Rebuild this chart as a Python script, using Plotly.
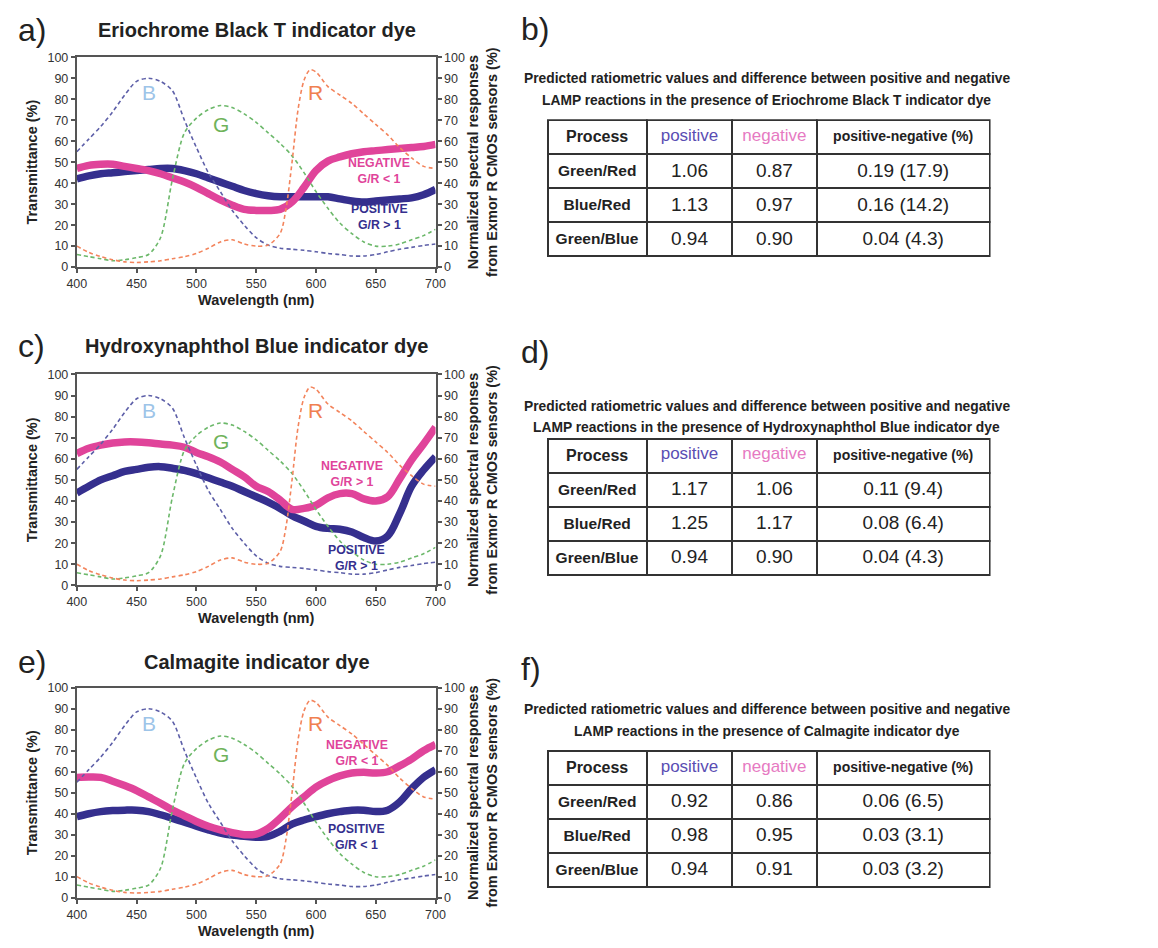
import plotly.graph_objects as go

# ---------------- data ----------------
WL = [400, 410, 420, 430, 440, 450, 460, 470, 480, 490, 500, 510, 520, 530, 540, 550,
      560, 570, 580, 590, 600, 610, 620, 630, 640, 650, 660, 670, 680, 690, 700]

SENS_B = [55, 61, 67, 74, 82, 88.5, 90, 88.5, 84, 70, 57, 45, 36, 27, 20, 14,
          10.5, 9, 8.5, 8, 7.3, 6.5, 6, 5.3, 5.3, 6, 7.3, 8.5, 9.4, 10.3, 11]
SENS_G = [6, 5, 4, 3, 3.5, 4.5, 6, 14, 42, 64, 71, 75, 77, 76, 73, 69,
          64, 59, 53, 45, 36, 28, 21, 16, 12, 10, 10, 11, 13, 15, 18]
WL_R = [400, 410, 420, 430, 440, 450, 460, 470, 480, 490, 500, 510, 520, 530, 540, 550,
        560, 570, 575, 580, 585, 590, 595, 600, 610, 620, 630, 640, 650, 660, 670, 680, 690, 700]
SENS_R = [10, 7, 5, 3.5, 2.5, 2.2, 2.5, 3, 4, 5, 6.5, 9, 12, 13, 11, 10,
          10.5, 16, 28, 50, 75, 89, 94, 93, 86, 82, 78, 73, 68, 63, 57, 52, 48, 47]

EBT_NEG = [47, 48.5, 49, 49, 48, 47, 46, 44.5, 42.5, 40.5, 38, 35, 32, 29.5, 27.5, 27,
           27, 27.5, 31, 38, 46, 50.5, 52.5, 54, 55, 55.5, 56, 56.5, 57, 57.5, 58.5]
EBT_POS = [42, 43.5, 44.5, 45, 45.5, 46, 46.5, 47, 47, 46, 44.5, 42.5, 40.5, 38.5, 36.5, 35,
           34, 33.5, 33.5, 33.5, 33.5, 33.5, 32.5, 31.5, 31, 31.5, 32, 32.5, 33, 34.5, 37]
HNB_NEG = [62.5, 65, 66.5, 67.5, 68, 68, 67.6, 67, 66.5, 65.5, 63, 61, 58.5, 55, 51.5, 47,
           44.5, 40.5, 36, 36.5, 38, 41.5, 43.5, 43.5, 41, 40, 42, 50.5, 59.5, 67, 75]
HNB_POS = [43.8, 47, 50, 52, 54, 55, 56, 56.3, 55.5, 54.5, 53, 51, 49, 47, 44.5, 42,
           39.5, 36.5, 33, 30.5, 28, 27, 26.6, 25.3, 22.7, 21, 23.4, 34, 47, 54.7, 61]
CAL_NEG = [57.3, 57.5, 57.3, 55.5, 53.4, 51, 48, 45, 41.7, 39, 36.3, 34, 32.3, 31, 30, 30.3,
           33, 37.8, 43.3, 48, 52.7, 55.8, 58, 59.4, 59.7, 59.4, 60, 62.8, 66, 70, 73]
CAL_POS = [38.6, 40, 41, 41.5, 41.7, 41.7, 41, 39.5, 37.8, 36, 34, 32.3, 30.8, 29.8, 29.2, 28.8,
           29.2, 31.6, 35, 37, 38.6, 40, 41, 41.7, 41.7, 41, 41.7, 45.6, 51.9, 57.3, 61]

DYES = ["Eriochrome Black T", "Hydroxynaphthol Blue", "Calmagite"]
PANEL_CHART = ["a)", "c)", "e)"]
PANEL_TABLE = ["b)", "d)", "f)"]
NEG_LABEL = ["NEGATIVE<br>G/R < 1", "NEGATIVE<br>G/R > 1", "NEGATIVE<br>G/R < 1"]
POS_LABEL = ["POSITIVE<br>G/R > 1", "POSITIVE<br>G/R > 1", "POSITIVE<br>G/R < 1"]
NEG_LABEL_XY = [(653, 46), (630, 53), (634, 69)]
POS_LABEL_XY = [(653, 24), (634, 13), (634, 29)]
NEG_SERIES = [EBT_NEG, HNB_NEG, CAL_NEG]
POS_SERIES = [EBT_POS, HNB_POS, CAL_POS]

PROCESS = ["Green/Red", "Blue/Red", "Green/Blue"]
TBL_POS = [[1.06, 1.13, 0.94], [1.17, 1.25, 0.94], [0.92, 0.98, 0.94]]
TBL_NEG = [[0.87, 0.97, 0.90], [1.06, 1.17, 0.90], [0.86, 0.95, 0.91]]
TBL_DIFF = [[0.19, 0.16, 0.04], [0.11, 0.08, 0.04], [0.06, 0.03, 0.03]]
TBL_PCT = [[17.9, 14.2, 4.3], [9.4, 6.4, 4.3], [6.5, 3.1, 3.2]]

# ---------------- style ----------------
W, H = 1158, 948
FONT = "Liberation Sans, Arial, sans-serif"
C_NEG = "#e0449a"
C_POS = "#352f8e"
C_B = "#5d5fa8"
C_G = "#6cb86a"
C_R = "#f3845c"
AXC = "#555555"


def px_x(p):
    return p / W


def px_y(p):
    return 1 - p / H


PLOT_Y = [(51, 264), (373, 587), (691, 904)]
PLOT_X = (68, 433)
TABLE_TOP = [115, 438, 755]
TABLE_X = (547, 997)
TITLE_Y = [23, 344, 665]
TBL_TITLE_Y = [(73, 95), (405, 427), (713, 735)]
TBL_LABEL_Y = [22, 350, 672]

fig = go.Figure()
annotations = []

for i in range(3):
    xa = "x" if i == 0 else f"x{i + 1}"
    yl = "y" if i == 0 else f"y{2 * i + 1}"
    yr = f"y{2 * i + 2}"
    for xs, ys, col in ((WL, SENS_B, C_B), (WL, SENS_G, C_G), (WL_R, SENS_R, C_R)):
        fig.add_trace(go.Scatter(x=xs, y=ys, xaxis=xa, yaxis=yr, mode="lines",
                                 line=dict(color=col, width=1.6, dash="4px,3px", shape="spline",
                                           smoothing=0.8),
                                 hoverinfo="skip", showlegend=False))
    fig.add_trace(go.Scatter(x=WL, y=POS_SERIES[i], xaxis=xa, yaxis=yl, mode="lines",
                             line=dict(color=C_POS, width=7.5, shape="spline", smoothing=1.0),
                             name="positive", showlegend=False))
    fig.add_trace(go.Scatter(x=WL, y=NEG_SERIES[i], xaxis=xa, yaxis=yl, mode="lines",
                             line=dict(color=C_NEG, width=7.5, shape="spline", smoothing=1.0),
                             name="negative", showlegend=False))

    top, bot = PLOT_Y[i]
    dom_y = [px_y(bot), px_y(top)]
    dom_x = [px_x(PLOT_X[0]), px_x(PLOT_X[1])]
    axis_common = dict(showline=True, linecolor=AXC, linewidth=2, ticks="outside", ticklen=4,
                       tickcolor=AXC, tickwidth=1.5, showgrid=False, zeroline=False,
                       tickfont=dict(family=FONT, size=12.5, color="#333333"))
    tfont = dict(family=FONT, size=14.5, color="#222")
    fig.update_layout(**{
        ("xaxis" if i == 0 else f"xaxis{i + 1}"): dict(
            domain=dom_x, anchor=yl, range=[400, 700], tickvals=[400, 450, 500, 550, 600, 650, 700],
            mirror=True, title=dict(text="<b>Wavelength (nm)</b>", standoff=5, font=tfont),
            **axis_common),
        ("yaxis" if i == 0 else f"yaxis{2 * i + 1}"): dict(
            domain=dom_y, anchor=xa, range=[0, 100], dtick=10,
            title=dict(text="<b>Transmittance (%)</b>", standoff=6, font=tfont),
            **axis_common),
        f"yaxis{2 * i + 2}": dict(
            domain=dom_y, anchor=xa, overlaying=yl, side="right", range=[0, 100], dtick=10,
            title=dict(text="<b>Normalized spectral responses<br>from Exmor R CMOS sensors (%)</b>",
                       standoff=0, font=tfont),
            **axis_common),
    })

    for txt, xv, yv, col in (("B", 460, 83, "#9dc4e8"), ("G", 521, 68, "#6fb35a"), ("R", 600, 83, "#f08050")):
        annotations.append(dict(x=xv, y=yv, xref=xa, yref=yr, text=txt, showarrow=False,
                                font=dict(family=FONT, size=21, color=col)))
    annotations.append(dict(x=NEG_LABEL_XY[i][0], y=NEG_LABEL_XY[i][1], xref=xa, yref=yl,
                            text="<b>" + NEG_LABEL[i] + "</b>", showarrow=False,
                            font=dict(family=FONT, size=12.3, color=C_NEG)))
    annotations.append(dict(x=POS_LABEL_XY[i][0], y=POS_LABEL_XY[i][1], xref=xa, yref=yl,
                            text="<b>" + POS_LABEL[i] + "</b>", showarrow=False,
                            font=dict(family=FONT, size=12.3, color=C_POS)))

    annotations.append(dict(x=px_x(6), y=px_y(TITLE_Y[i]), xref="paper", yref="paper",
                            xanchor="left", yanchor="middle", text=PANEL_CHART[i], showarrow=False,
                            font=dict(family=FONT, size=32, color="#222")))
    annotations.append(dict(x=px_x(251), y=px_y(TITLE_Y[i]), xref="paper", yref="paper",
                            xanchor="center", yanchor="middle",
                            text=f"<b>{DYES[i]} indicator dye</b>", showarrow=False,
                            font=dict(family=FONT, size=20, color="#222")))
    annotations.append(dict(x=px_x(518), y=px_y(TBL_LABEL_Y[i]), xref="paper", yref="paper",
                            xanchor="left", yanchor="middle", text=PANEL_TABLE[i], showarrow=False,
                            font=dict(family=FONT, size=32, color="#222")))
    annotations.append(dict(x=px_x(770), y=px_y(TBL_TITLE_Y[i][0]), xref="paper", yref="paper",
                            xanchor="center", yanchor="middle",
                            text="<b>Predicted ratiometric values and difference between positive and negative</b>",
                            showarrow=False, font=dict(family=FONT, size=13.8, color="#222")))
    annotations.append(dict(x=px_x(770), y=px_y(TBL_TITLE_Y[i][1]), xref="paper", yref="paper",
                            xanchor="center", yanchor="middle",
                            text=f"<b>LAMP reactions in the presence of {DYES[i]} indicator dye</b>",
                            showarrow=False, font=dict(family=FONT, size=13.8, color="#222")))

    col_proc = [f"<b>{p}</b>" for p in PROCESS]
    col_pos = [f"{v:.2f}" for v in TBL_POS[i]]
    col_neg = [f"{v:.2f}" for v in TBL_NEG[i]]
    col_diff = [f"{d:.2f} ({p})" for d, p in zip(TBL_DIFF[i], TBL_PCT[i])]
    fig.add_trace(go.Table(
        domain=dict(x=[px_x(TABLE_X[0]), px_x(TABLE_X[1])],
                    y=[px_y(TABLE_TOP[i] + 180), px_y(TABLE_TOP[i])]),
        columnwidth=[101, 87, 86, 176],
        header=dict(values=["<b>Process</b>", "positive", "negative", "<b>positive-negative (%)</b>"],
                    align="center", height=34,
                    font=dict(family=FONT, size=[16, 17, 17, 14],
                              color=["#222", "#5a4db3", "#e67ac2", "#222"]),
                    line=dict(color="#333", width=2), fill=dict(color="white")),
        cells=dict(values=[col_proc, col_pos, col_neg, col_diff], align="center", height=34,
                   font=dict(family=FONT, size=[15.5, 19, 19, 19], color="#222"),
                   line=dict(color="#333", width=2), fill=dict(color="white")),
    ))

fig.update_layout(width=W, height=H, margin=dict(l=0, r=0, t=0, b=0),
                  paper_bgcolor="white", plot_bgcolor="white", showlegend=False,
                  annotations=annotations)

fig.write_html("out.html")
